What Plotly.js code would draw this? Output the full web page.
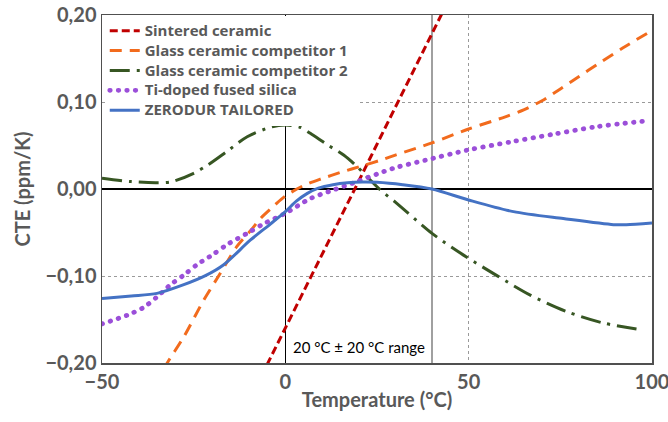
<!DOCTYPE html>
<html>
<head>
<meta charset="utf-8">
<script src="https://cdn.plot.ly/plotly-3.0.1.min.js"></script>
<style>
html,body{margin:0;padding:0;background:#fff;}
#chart{width:668px;height:422px;}
</style>
</head>
<body>
<div id="chart"></div>
<script>
// ---- Data ----
var seriesNames = ["Sintered ceramic", "Glass ceramic competitor 1", "Glass ceramic competitor 2", "Ti-doped fused silica", "ZERODUR TAILORED"];

var sinteredT   = [-5, 0, 10, 20, 30, 45];
var sinteredCTE = [-0.202, -0.160, -0.076, 0.009, 0.094, 0.221];

var gc1T   = [-33, -32.2, -27.7, -22.3, -18.2, -13.2, -9.5, -6.8, -3, 0, 5, 10, 15, 21.3, 25.9, 30, 40, 50, 60, 65, 70, 75, 80, 85, 92, 99.5];
var gc1CTE = [-0.207, -0.200, -0.170, -0.128, -0.100, -0.066, -0.048, -0.034, -0.019, -0.008, 0.004, 0.012, 0.019, 0.027, 0.033, 0.039, 0.053, 0.069, 0.083, 0.091, 0.1015, 0.115, 0.129, 0.143, 0.162, 0.181];

var gc2T   = [-50, -42, -35, -31, -25, -21, -16, -10.4, -3.6, 0, 4, 6.8, 11.4, 15.9, 19.5, 22.3, 25.9, 30.4, 40, 48.6, 57.7, 66.8, 76.8, 86.7, 97.5];
var gc2CTE = [0.0125, 0.0085, 0.0073, 0.0084, 0.018, 0.028, 0.043, 0.060, 0.0716, 0.0736, 0.071, 0.064, 0.051, 0.039, 0.026, 0.014, -0.001, -0.0165, -0.051, -0.076, -0.0996, -0.122, -0.141, -0.154, -0.162];

var tiT   = [-50, -43.1, -38.6, -35, -31.3, -27.7, -24.1, -20, -15.9, -10, -5.9, 0, 6.8, 13.2, 19.5, 26.8, 30.4, 38.1, 50, 61.3, 73.1, 84.9, 99];
var tiCTE = [-0.155, -0.145, -0.136, -0.124, -0.110, -0.099, -0.087, -0.076, -0.064, -0.050, -0.040, -0.028, -0.011, -0.001, 0.0084, 0.020, 0.025, 0.033, 0.045, 0.054, 0.063, 0.0716, 0.0785];

var zerodurT   = [-50, -42, -35, -27.7, -21.8, -16.8, -9.5, -4, 0, 3, 6, 9, 13, 17, 21, 25, 32, 40, 50, 62.2, 75.8, 89.5, 93, 100];
var zerodurCTE = [-0.126, -0.123, -0.120, -0.110, -0.0996, -0.087, -0.0586, -0.040, -0.026, -0.014, -0.005, 0.001, 0.005, 0.0072, 0.008, 0.0077, 0.005, 0.0, -0.0126, -0.026, -0.034, -0.041, -0.041, -0.039];

var xTickVals = [-50, 0, 50, 100];
var yTickVals = [-0.2, -0.1, 0, 0.1, 0.2];
var rangeLabel = "20 °C ± 20 °C range";
var xTitle = "Temperature (°C)";
var yTitle = "CTE (ppm/K)";

// ---- Styling ----
var FONT = "Lato, 'Open Sans', sans-serif";
var LEGFONT = "'Open Sans', Lato, sans-serif";
var GREY = "#595959";

var traces = [
  {x: sinteredT, y: sinteredCTE, name: seriesNames[0], mode: "lines",
   line: {color: "#c00000", width: 3, dash: "8px,4px"}},
  {x: gc1T, y: gc1CTE, name: seriesNames[1], mode: "lines",
   line: {color: "#f26b1d", width: 3, dash: "12px,8px", shape: "spline", smoothing: 0.8}},
  {x: gc2T, y: gc2CTE, name: seriesNames[2], mode: "lines",
   line: {color: "#375623", width: 3, dash: "20px,7px,3px,7px", shape: "spline", smoothing: 0.8}},
  {x: tiT, y: tiCTE, name: seriesNames[3], mode: "lines",
   line: {color: "#9b4fd9", width: 4.8, dash: "0.5px,8px", shape: "spline", smoothing: 0.8}},
  {x: zerodurT, y: zerodurCTE, name: seriesNames[4], mode: "lines",
   line: {color: "#4472c4", width: 3, shape: "spline", smoothing: 0.8}}
];

var layout = {
  width: 668, height: 422,
  margin: {l: 102, r: 16, t: 15, b: 59},
  paper_bgcolor: "#fff", plot_bgcolor: "#fff",
  separators: ",.",
  font: {family: FONT, color: GREY},
  showlegend: true,
  legend: {x: 0.005, y: 0.998, xanchor: "left", yanchor: "top",
           bgcolor: "#ffffff", borderwidth: 0,
           font: {family: LEGFONT, size: 13, color: GREY, weight: "bold"},
           tracegroupgap: 0},
  xaxis: {range: [-50, 100], tickvals: xTickVals, ticks: "", ticklabeloverflow: "allow",
          tickfont: {family: FONT, size: 20, color: GREY, weight: "bold"},
          showgrid: true, gridcolor: "#9a9a9a", griddash: "dot", gridwidth: 1,
          zeroline: true, zerolinecolor: "#000", zerolinewidth: 1.5,
          showline: true, mirror: true, linecolor: "#505050", linewidth: 1.5,
          title: {text: xTitle, standoff: 1,
                  font: {family: FONT, size: 20, color: GREY, weight: "bold"}}},
  yaxis: {range: [-0.2, 0.2], tickvals: yTickVals, tickformat: ".2f", ticks: "",
          tickfont: {family: FONT, size: 20, color: GREY, weight: "bold"},
          showgrid: true, gridcolor: "#9a9a9a", griddash: "dot", gridwidth: 1,
          zeroline: true, zerolinecolor: "#000", zerolinewidth: 1.5,
          showline: true, mirror: true, linecolor: "#505050", linewidth: 1.5,
          title: {text: yTitle, standoff: 9,
                  font: {family: FONT, size: 20, color: GREY, weight: "bold"}}},
  shapes: [
    {type: "line", xref: "x", yref: "y", x0: 40, x1: 40, y0: -0.2, y1: 0.2,
     line: {color: "#808080", width: 1.5}, layer: "below"}
  ],
  annotations: [
    {text: rangeLabel, xref: "x", yref: "y", x: 1.5, y: -0.182,
     xanchor: "left", yanchor: "middle", showarrow: false,
     font: {family: FONT, size: 15, color: "#000"}}
  ]
};

Plotly.newPlot("chart", traces, layout, {displayModeBar: false, staticPlot: true}).then(function(gd){
  // round caps for the dotted series (trace index 3), in plot and legend
  var tr = gd.querySelectorAll(".scatterlayer .trace");
  if (tr[3]) tr[3].querySelectorAll("path.js-line").forEach(function(p){ p.style.strokeLinecap = "round"; });
  var leg = gd.querySelector(".legend");
  if (!leg) return;
  leg.querySelectorAll(".traces").forEach(function(t){
    if (t.textContent.indexOf(seriesNames[3]) >= 0) {
      t.querySelectorAll("path").forEach(function(p){ p.style.strokeLinecap = "round"; });
    }
  });
  // compact rows like the reference, but slightly larger legend lettering
  leg.querySelectorAll("text.legendtext").forEach(function(t){ t.style.fontSize = "15px"; });
  var bg = leg.querySelector("rect.bg");
  if (bg) {
    var left = bg.getBoundingClientRect().left;
    var w = Math.max(parseFloat(bg.getAttribute("width")), 357 - left);
    bg.setAttribute("width", w);
    gd.querySelectorAll("clipPath").forEach(function(cp){
      if (cp.id && cp.id.indexOf("legend") === 0) {
        var r = cp.querySelector("rect");
        if (r) r.setAttribute("width", w);
      }
    });
  }
});
</script>
</body>
</html>
